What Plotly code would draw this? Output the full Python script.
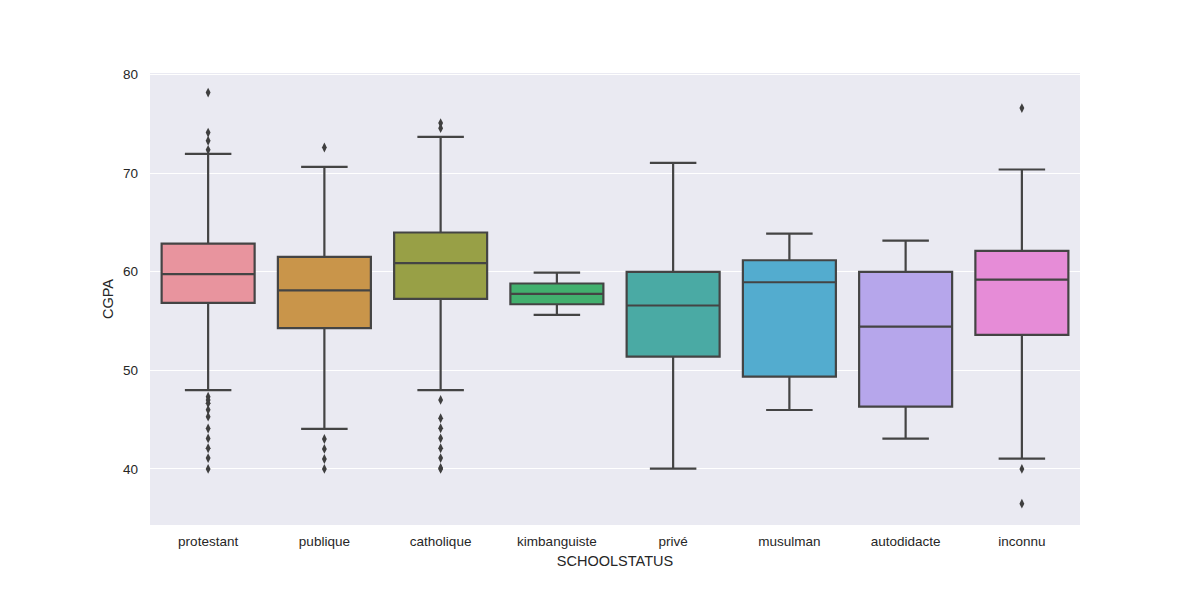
import plotly.graph_objects as go

categories = ["protestant", "publique", "catholique", "kimbanguiste", "privé", "musulman", "autodidacte", "inconnu"]
q1 = [56.84, 54.27, 57.24, 56.7, 51.39, 49.36, 46.32, 53.59]
median = [59.75, 58.1, 60.86, 57.75, 56.57, 58.93, 54.43, 59.2]
q3 = [62.85, 61.5, 63.97, 58.8, 59.98, 61.16, 59.98, 62.11]
lowerfence = [48.0, 44.06, 48.0, 55.62, 40.03, 45.98, 43.08, 41.05]
upperfence = [71.95, 70.63, 73.67, 59.9, 71.03, 63.86, 63.15, 70.36]
outliers = {
    "protestant": [78.16, 74.1, 73.27, 72.35, 47.33, 47.0, 46.66, 46.0, 45.3, 44.1, 43.1, 42.1, 41.1, 40.0],
    "publique": [72.59, 43.04, 42.03, 41.01, 40.0],
    "catholique": [75.06, 74.55, 47.0, 45.14, 44.13, 43.11, 42.1, 41.1, 40.1, 40.0],
    "kimbanguiste": [],
    "privé": [],
    "musulman": [],
    "autodidacte": [],
    "inconnu": [76.58, 40.0, 36.48],
}
colors = ["#E8949E", "#C9954A", "#98A046", "#42B06E", "#4AAAA4", "#53ACCF", "#B6A6EB", "#E68CD7"]

fig = go.Figure()
for i, c in enumerate(categories):
    fig.add_trace(go.Box(
        x=[c], q1=[q1[i]], median=[median[i]], q3=[q3[i]],
        lowerfence=[lowerfence[i]], upperfence=[upperfence[i]],
        fillcolor=colors[i], line=dict(color="#444444", width=2.2),
        width=0.8, whiskerwidth=0.5, boxpoints=False, showlegend=False,
        hoverinfo="skip",
    ))
    if outliers[c]:
        fig.add_trace(go.Scatter(
            x=[c] * len(outliers[c]), y=outliers[c], mode="markers",
            marker=dict(symbol="diamond-tall", size=7, color="#3F3F3F"),
            showlegend=False, hoverinfo="skip",
        ))

fig.update_layout(
    width=1200, height=600,
    margin=dict(l=150, r=120, t=73, b=75),
    paper_bgcolor="white", plot_bgcolor="#EAEAF2",
    font=dict(family="Liberation Sans, Arial, sans-serif", color="#262626", size=13.5),
    xaxis=dict(
        type="category", categoryorder="array", categoryarray=categories,
        range=[-0.5, 7.5], showgrid=False, zeroline=False, showline=False,
        ticks="", ticklabelstandoff=6,
        title=dict(text="SCHOOLSTATUS", font=dict(size=14.5), standoff=8),
        tickfont=dict(size=13.5),
    ),
    yaxis=dict(
        range=[34.32, 80.14], tickvals=[40, 50, 60, 70, 80],
        showgrid=True, gridcolor="white", gridwidth=1.3, zeroline=False,
        showline=False, ticks="", tickfont=dict(size=13.5), ticklabelstandoff=11,
        title=dict(text="CGPA", font=dict(size=14.5), standoff=5),
    ),
)

fig.write_html("out.html")
